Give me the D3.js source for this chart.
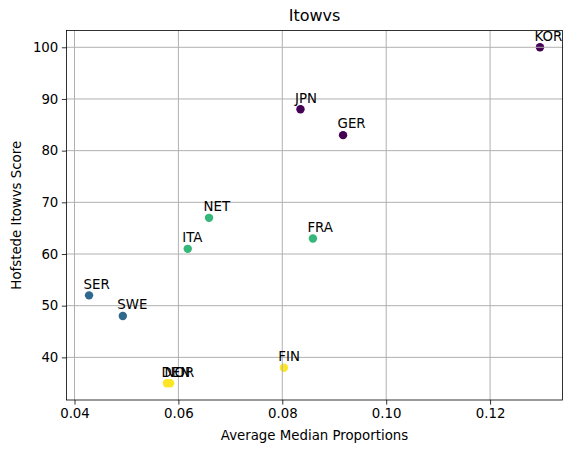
<!DOCTYPE html>
<html><head><meta charset="utf-8">
<script src="https://cdn.jsdelivr.net/npm/d3@7"></script>
<style>body{margin:0;background:#fff}svg{display:block}text{font-family:"DejaVu Sans",sans-serif}</style>
</head><body><svg id="c" width="571" height="453"></svg>
<script>
const countries = ["KOR","JPN","GER","NET","ITA","FRA","SER","SWE","FIN","DEN","NOR"];
const proportions = [0.1296,0.0835,0.0917,0.0659,0.0618,0.0859,0.0428,0.0493,0.0803,0.0578,0.0584];
const scores = [100,88,83,67,61,63,52,48,38,35,35];
const groups = [0,0,0,2,2,2,1,1,3,3,3];
const groupColors = ["#440154","#31688e","#35b779","#fde725"];
const xTicks = [0.04,0.06,0.08,0.10,0.12];
const yTicks = [40,50,60,70,80,90,100];

const svg = d3.select("#c");
const L=66.5, R=562.5, T=30.5, B=400;
const pad = (e)=>{const r=e[1]-e[0];return [e[0]-0.05*r,e[1]+0.05*r];};
const x = d3.scaleLinear().domain(pad(d3.extent(proportions))).range([L,R]);
const y = d3.scaleLinear().domain(pad(d3.extent(scores))).range([B,T]);

// points
svg.append("g").selectAll("circle").data(countries).join("circle")
  .attr("cx",(d,i)=>x(proportions[i])).attr("cy",(d,i)=>y(scores[i]))
  .attr("r",4.2).attr("fill",(d,i)=>groupColors[groups[i]]);

// grid (over points as in matplotlib default)
const g = svg.append("g");
g.selectAll("line.gx").data(xTicks).join("line")
  .attr("x1",d=>x(d)).attr("x2",d=>x(d)).attr("y1",T).attr("y2",B)
  .attr("stroke","#b0b0b0").attr("stroke-width",1);
g.selectAll("line.gy").data(yTicks).join("line")
  .attr("y1",d=>y(d)).attr("y2",d=>y(d)).attr("x1",L).attr("x2",R)
  .attr("stroke","#b0b0b0").attr("stroke-width",1);

// axes
const xa = svg.append("g").attr("transform",`translate(0,${B})`)
  .call(d3.axisBottom(x).tickValues(xTicks).tickFormat(d3.format(".2f")).tickSize(4.67).tickPadding(3.5));
const ya = svg.append("g").attr("transform",`translate(${L},0)`)
  .call(d3.axisLeft(y).tickValues(yTicks).tickFormat(d3.format("d")).tickSize(4.67).tickPadding(3.5));
[xa,ya].forEach(a=>{a.select(".domain").remove();a.selectAll("text").attr("font-size","13.33px").attr("fill","#000").style("font-family","DejaVu Sans");a.selectAll("line").attr("stroke","#000").attr("stroke-width",0.8);});

svg.append("rect").attr("x",L).attr("y",T).attr("width",R-L).attr("height",B-T)
  .attr("fill","none").attr("stroke","#000").attr("stroke-width",0.8);

// labels
svg.append("g").selectAll("text").data(countries).join("text")
  .attr("x",(d,i)=>x(proportions[i])-5.5).attr("y",(d,i)=>y(scores[i])-6.7)
  .attr("font-size","13.33px").attr("fill","#000").text(d=>d);

svg.append("text").attr("x",(L+R)/2).attr("y",21).attr("text-anchor","middle")
  .attr("font-size","16px").text("Itowvs");
svg.append("text").attr("x",(L+R)/2).attr("y",440).attr("text-anchor","middle")
  .attr("font-size","13.33px").text("Average Median Proportions");
svg.append("text").attr("transform",`translate(21,${(T+B)/2}) rotate(-90)`).attr("text-anchor","middle")
  .attr("font-size","13.33px").text("Hofstede Itowvs Score");
</script></body></html>
